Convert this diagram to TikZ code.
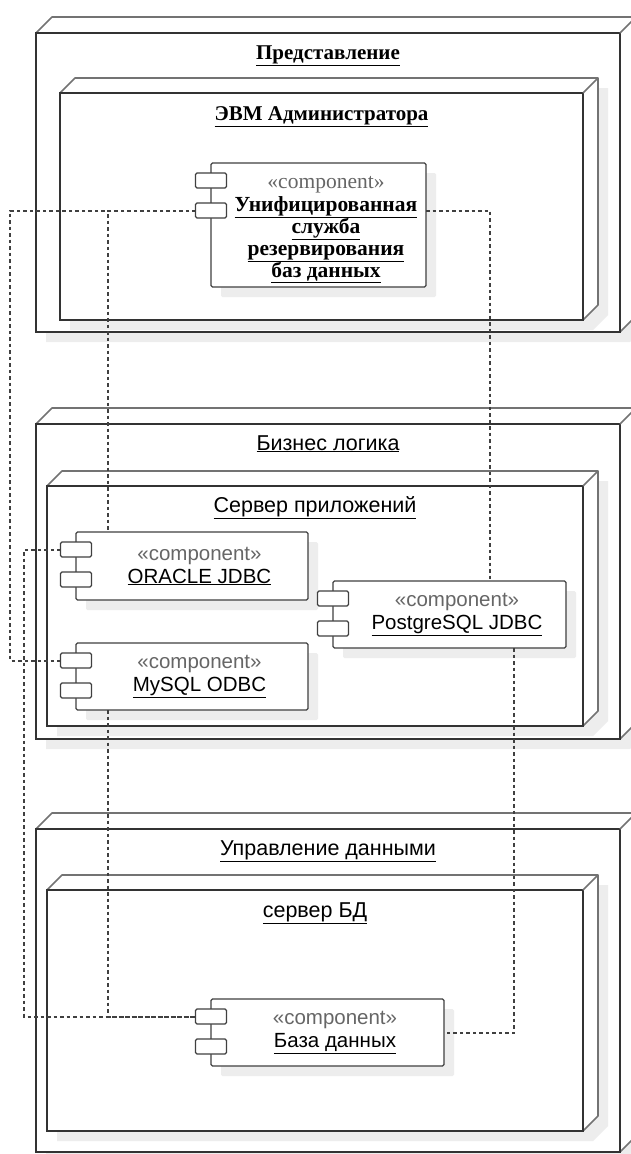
\documentclass[tikz,border=0pt]{standalone}
\usepackage{fontspec}
\setmainfont{Liberation Serif}
\setsansfont{Liberation Sans}
\usepackage{tikz}
\usetikzlibrary{positioning, shadows}

\newcommand{\lpad}{\hspace*{15pt}}

\begin{document}
\begin{tikzpicture}[x=1pt, y=-1pt,
    devface/.style={draw=black!80, line width=1.6pt, fill=white, anchor=north west, inner sep=0pt, outer sep=0pt},
    devside/.style={draw=black!55, line width=1.6pt, fill=white, line join=round},
    devshadow/.style={fill=black!7},
    comp/.style={draw=black!75, line width=1.3pt, fill=white, rounded corners=1.5pt, anchor=north west, outer sep=0pt, align=center, font=\sffamily\fontsize{20.5}{23}\selectfont, drop shadow={shadow xshift=10pt, shadow yshift=-10pt, fill=black!7, opacity=1}},
    port/.style={draw=black!75, line width=1.3pt, fill=white, rounded corners=1.5pt, minimum width=31pt, minimum height=15pt, inner sep=0pt, outer sep=0pt},
    titlesf/.style={font=\sffamily\fontsize{21.5}{23}\selectfont},
    titlerm/.style={font=\rmfamily\bfseries\fontsize{21}{23}\selectfont},
    link/.style={draw=black!75, line width=2pt, dash pattern=on 3.5pt off 3pt}
]
    \useasboundingbox (0,0) rectangle (630,1154);

    % deployment nodes: name/left/top/right/bottom/depth
    \foreach \n/\l/\t/\r/\b/\d in {pres/36/33/620/332/16, presIn/60/93/583/320/15,
                                   biz/36/424/620/739/16, bizIn/47/486/583/726/15,
                                   data/36/829/620/1152/16, dataIn/47/890/583/1131/15} {
        \fill[devshadow] ({\l+10},{\t+10}) -- ++(\d,-\d) -- ({\r+\d+10},{\t-\d+10}) -- ({\r+\d+10},{\b-\d+10}) -- ({\r+10},{\b+10}) -- ({\l+10},{\b+10}) -- cycle;
        \filldraw[devside] (\l,\t) -- ++(\d,-\d) -- ({\r+\d},{\t-\d}) -- ({\r+\d},{\b-\d}) -- (\r,\b) -- (\r,\t) -- cycle;
        \node[devface, minimum width={\r-\l}, minimum height={\b-\t}] (\n) at (\l,\t) {};
        \draw[devside] (\n.north east) -- ++(\d,-\d);
    }

    \node[titlerm, below=26pt of pres.north, anchor=base] (presT) {\underline{Представление}};
    \node[titlerm, below=27pt of presIn.north, anchor=base] (presInT) {\underline{ЭВМ Администратора}};
    \node[titlesf, below=26pt of biz.north, anchor=base] (bizT) {\underline{Бизнес логика}};
    \node[titlesf, below=26pt of bizIn.north, anchor=base] (bizInT) {\underline{Сервер приложений}};
    \node[titlesf, below=26pt of data.north, anchor=base] (dataT) {\underline{Управление данными}};
    \node[titlesf, below=27pt of dataIn.north, anchor=base] (dataInT) {\underline{сервер БД}};

    % components
    \node[comp, minimum width=215pt, minimum height=124pt, font=\rmfamily\fontsize{21.5}{22}\selectfont] (uni) at (211,163)
        {\lpad\rule{0pt}{21pt}\textcolor{black!60}{«component»}\\[1pt] \lpad\textbf{\underline{Унифицированная}}\\ \lpad\textbf{\underline{служба}}\\
         \lpad\textbf{\underline{резервирования}}\\ \lpad\textbf{\underline{баз данных}}};
    \node[comp, minimum width=232pt, minimum height=68pt] (ora) at (76,532)
        {\lpad\textcolor{black!60}{«component»}\\ \lpad\underline{ORACLE JDBC}};
    \node[comp, minimum width=232pt, minimum height=67pt] (my) at (76,643)
        {\lpad\textcolor{black!60}{«component»}\\ \lpad\underline{MySQL ODBC}};
    \node[comp, minimum width=233pt, minimum height=67pt] (pg) at (333,581)
        {\lpad\textcolor{black!60}{«component»}\\ \lpad\underline{PostgreSQL JDBC}};
    \node[comp, minimum width=233pt, minimum height=67pt] (db) at (211,999)
        {\lpad\textcolor{black!60}{«component»}\\ \lpad\underline{База данных}};

    % ports
    \foreach \c in {uni, ora, my, pg, db} {
        \node[port, below=10pt of \c.north west] (\c A) {};
        \node[port, below=15pt of \c A] (\c B) {};
    }

    % bend columns
    \coordinate (railA) at (10,0);
    \coordinate (railB) at (108,0);
    \coordinate (railC) at (490,0);
    \coordinate (railD) at (24,0);
    \coordinate (railE) at (514,0);

    \draw[link] (uniB.west) -- (uniB.west -| railA) |- (myA.west);
    \draw[link] (uniB.west) -| (ora.north -| railB);
    \draw[link] (uniB -| uni.east) -| (pg.north -| railC);
    \draw[link] (oraA.west) -- (oraA.west -| railD) |- (dbA.west);
    \draw[link] (my.south -| railB) |- (dbA.west);
    \draw[link] (pg.south -| railE) |- (db.east);
\end{tikzpicture}
\end{document}
